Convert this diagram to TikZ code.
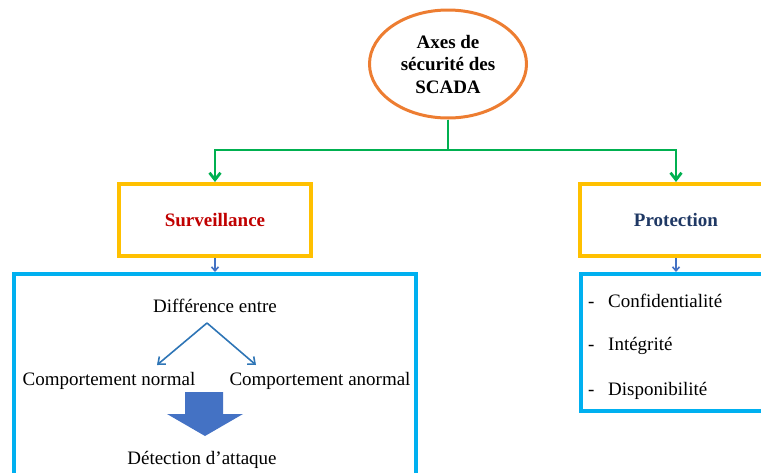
\documentclass[tikz,border=0pt]{standalone}
\usepackage{fontspec}
\setmainfont{Liberation Serif}
\usetikzlibrary{arrows.meta,shapes.geometric}
\definecolor{ovalorange}{HTML}{ED7D31}
\definecolor{linkgreen}{HTML}{00B050}
\definecolor{boxyellow}{HTML}{FFC000}
\definecolor{framecyan}{HTML}{00B0F0}
\definecolor{arrowblue}{HTML}{2E75B6}
\definecolor{blockblue}{HTML}{4472C4}
\definecolor{survred}{HTML}{C00000}
\definecolor{protnavy}{HTML}{1F3864}
\tikzset{
  txt/.style={font=\fontsize{19}{22}\selectfont, inner sep=0pt},
  headbox/.style={draw=boxyellow, line width=4pt, minimum width=192pt, minimum height=72pt,
    text height=16pt, text depth=4pt, font=\bfseries\fontsize{19}{22}\selectfont},
  frame/.style={draw=framecyan, line width=4pt, inner sep=0pt},
  greenlink/.style={draw=linkgreen, line width=2.8pt, -{Straight Barb[length=7pt,width=11pt,line width=2.8pt]}},
  smallblue/.style={draw=blockblue, line width=1.6pt, -{Straight Barb[length=4pt,width=7pt]}},
  splitarrow/.style={draw=arrowblue, line width=1.6pt, -{Straight Barb[length=6pt,width=10pt]}}
}
\newcommand{\bulletline}[1]{\makebox[20pt][l]{-}#1}
\begin{document}
\begin{tikzpicture}[x=1pt,y=-1pt]
\useasboundingbox (0,0) rectangle (761,472);
\clip (0,0) rectangle (761,472);

% root oval
\node[ellipse, draw=ovalorange, line width=3pt, minimum width=157pt, minimum height=108pt,
  inner sep=0pt, align=center, font=\bfseries\fontsize{19}{22.5}\selectfont] (axes) at (448,64)
  {Axes de\\sécurité des\\SCADA};

% two branches
\node[headbox, text=survred] (surv) at (215,220) {Surveillance};
\node[headbox, text=protnavy] (prot) at (676,220) {Protection};

% outer frames (partly cut by the page edge)
\node[frame, minimum width=402pt, minimum height=250pt] (survframe) at (215,399) {};
\node[frame, minimum width=192pt, minimum height=137pt] (protframe) at (677,342.5) {};

% green tree links
\coordinate (fork) at (448,150);
\draw[linkgreen, line width=2.8pt] (axes.south) -- (fork);
\draw[greenlink] (fork) -| (surv.north);
\draw[greenlink] (fork) -| (prot.north);

% short blue links into the frames
\draw[smallblue] (surv.south) -- (survframe.north -| surv.south);
\draw[smallblue] (prot.south) -- (protframe.north -| prot.south);

% monitoring content
\node[txt] (diff) at (215,306) {Différence entre};
\coordinate (apex) at (207,323);
\node[txt] (normal) at (109,381) {Comportement normal};
\node[txt] (anormal) at (320,381) {Comportement anormal};
\coordinate (ltip) at (157,365);
\coordinate (rtip) at (256,365);
\draw[splitarrow] (apex) -- (ltip);
\draw[splitarrow] (apex) -- (rtip);

% block arrow down to detection
\fill[blockblue] (185,392) -- (223,392) -- (223,414) -- (243,414) -- (205,436)
  -- (167,414) -- (185,414) -- cycle;
\node[txt] (detect) at (202,460) {Détection d’attaque};

% protection content
\node[txt, anchor=west] (c1) at (588,301) {\bulletline{Confidentialité}};
\node[txt, anchor=west] (c2) at (588,346) {\bulletline{Intégrité}};
\node[txt, anchor=west] (c3) at (588,391) {\bulletline{Disponibilité}};
\end{tikzpicture}
\end{document}
